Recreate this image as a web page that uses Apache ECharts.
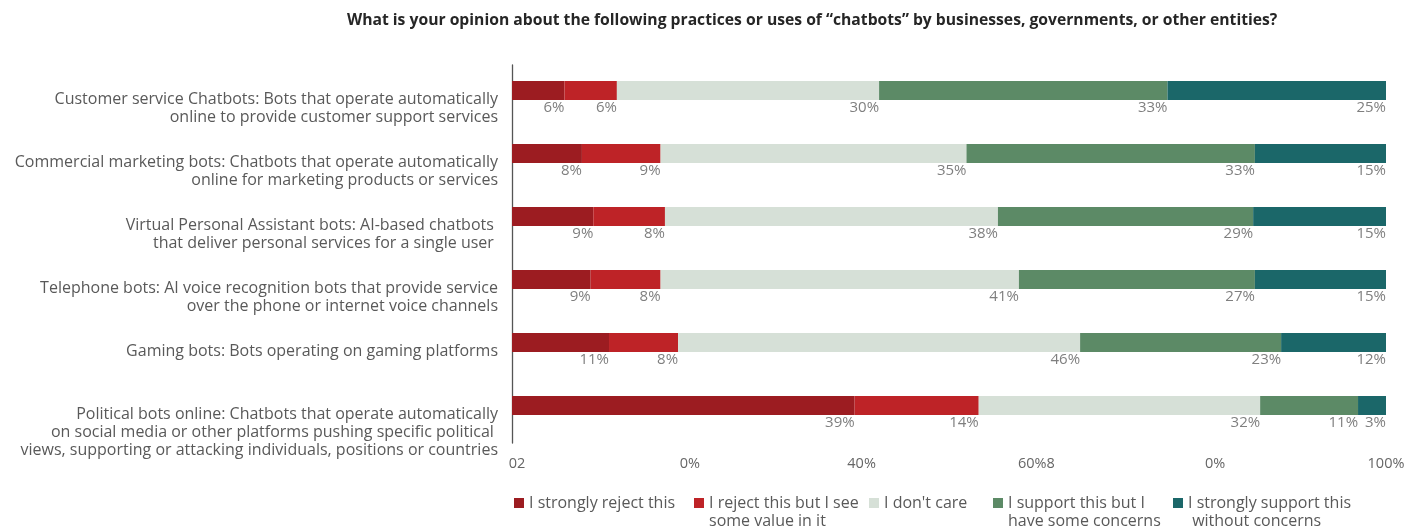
<!DOCTYPE html>
<html>
<head>
<meta charset="utf-8">
<script src="https://cdn.jsdelivr.net/npm/echarts@6/dist/echarts.min.js"></script>
<style>
html,body{margin:0;padding:0;background:#fff;}
#chart{width:1420px;height:530px;}
</style>
</head>
<body>
<div id="chart"></div>
<script>
const titleText = 'What is your opinion about the following practices or uses of \u201cchatbots\u201d by businesses, governments, or other entities?';
const categories = [
  'Customer service Chatbots: Bots that operate automatically\nonline to provide customer support services',
  'Commercial marketing bots: Chatbots that operate automatically\nonline for marketing products or services',
  'Virtual Personal Assistant bots: AI-based chatbots \nthat deliver personal services for a single user ',
  'Telephone bots: AI voice recognition bots that provide service\nover the phone or internet voice channels',
  'Gaming bots: Bots operating on gaming platforms',
  'Political bots online: Chatbots that operate automatically\non social media or other platforms pushing specific political \nviews, supporting or attacking individuals, positions or countries'
];
const seriesNames = ['I strongly reject this', 'I reject this but I see some value in it', "I don't care", 'I support this but I have some concerns', 'I strongly support this without concerns'];
const legendLines = [
  ['I strongly reject this', ' '],
  ['I reject this but I see', 'some value in it'],
  ["I don't care", ' '],
  ['I support this but I', 'have some concerns'],
  ['I strongly support this', ' without concerns']
];
const stronglyReject  = [6, 8, 9.3, 9, 11.1, 39.2];
const rejectSomeValue = [6, 9, 8.2, 8, 7.9, 14.2];
const dontCare        = [30, 35, 38.1, 41, 46, 32.2];
const supportConcerns = [33, 33, 29.2, 27, 23, 11.2];
const stronglySupport = [25, 15, 15.2, 15, 12, 3.2];
const xTickLabels = ['02', '0%', '40%', '60%8', '0%', '100%'];

const colors = ['#9C1C21', '#BE2327', '#D6E0D7', '#5C8A66', '#1B6769'];
const seriesValues = [stronglyReject, rejectSomeValue, dontCare, supportConcerns, stronglySupport];
const FONT = "'Open Sans', 'Noto Sans', sans-serif";

const chart = echarts.init(document.getElementById('chart'), null, {renderer: 'canvas'});

const tickPad = [10, 6, 0, 0, 8, 0];
const rich = {};
tickPad.forEach((p, i) => {
  rich['t' + i] = {fontFamily: FONT, fontSize: 14.5, color: '#666666', padding: [0, 0, 0, p]};
});

const legendLefts = [514, 694, 869, 993, 1173];
const legends = seriesNames.map((n, i) => ({
  data: [n],
  left: legendLefts[i],
  top: 476,
  padding: 0,
  itemWidth: 10,
  itemHeight: 10,
  icon: 'rect',
  selectedMode: false,
  formatter: () => ' \n' + legendLines[i][0] + '\n' + legendLines[i][1],
  textStyle: {fontFamily: FONT, fontSize: 16, color: '#595959', lineHeight: 18}
}));

const option = {
  animation: false,
  backgroundColor: '#ffffff',
  color: colors,
  title: {
    text: titleText,
    left: 347,
    top: 13,
    padding: 0,
    textStyle: {fontFamily: FONT, fontSize: 15.7, fontWeight: 'bold', color: '#262626'}
  },
  legend: legends,
  grid: [
    {left: 512, right: 34, top: 59, bottom: 93, containLabel: false},
    {left: 512, right: 34, top: 65, bottom: 87, containLabel: false}
  ],
  xAxis: [
    {
      gridIndex: 0, type: 'value', min: 0, max: 100, interval: 20,
      axisLine: {show: false}, axisTick: {show: false}, splitLine: {show: false},
      axisLabel: {
        margin: 19,
        formatter: (v) => { const i = Math.round(v / 20); return '{t' + i + '|' + xTickLabels[i] + '}'; },
        rich: rich
      }
    },
    {
      gridIndex: 1, type: 'value', min: 0, max: 100, show: false
    }
  ],
  yAxis: [
    {
      gridIndex: 0, type: 'category', data: categories, inverse: true,
      axisLine: {show: false}, axisTick: {show: false},
      axisLabel: {
        margin: 14, fontFamily: FONT, fontSize: 16, color: '#595959',
        lineHeight: 18, verticalAlign: 'top', align: 'right'
      }
    },
    {
      gridIndex: 1, type: 'category', data: categories, inverse: true,
      axisLine: {show: true, lineStyle: {color: '#555555', width: 1.3}},
      axisTick: {show: false}, axisLabel: {show: false}
    }
  ],
  series: seriesNames.map((n, i) => ({
    name: n,
    type: 'bar',
    stack: 'total',
    xAxisIndex: 0,
    yAxisIndex: 0,
    barWidth: 19,
    data: seriesValues[i],
    itemStyle: {color: colors[i]},
    label: {
      show: true,
      position: ['100%', '100%'],
      align: 'right',
      verticalAlign: 'top',
      offset: [0, 0],
      fontFamily: FONT,
      fontSize: 15,
      color: '#7F7F7F',
      formatter: (p) => Math.round(p.value) + '%'
    }
  }))
};
chart.setOption(option);
</script>
</body>
</html>
